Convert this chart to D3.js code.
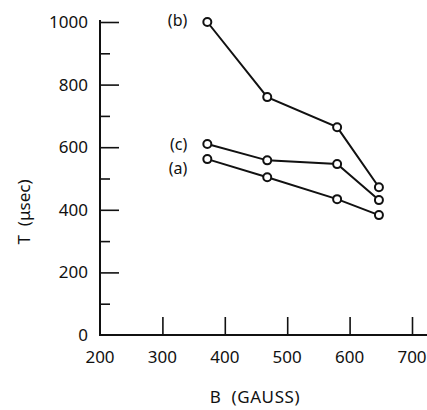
<!DOCTYPE html>
<html>
<head>
<meta charset="utf-8">
<script src="https://cdn.jsdelivr.net/npm/d3@7/dist/d3.min.js"></script>
<style>
  html, body { margin: 0; padding: 0; background: #fff; }
  svg text { font-family: "Noto Sans", "Open Sans", sans-serif; fill: #111; white-space: pre; }
</style>
</head>
<body>
<svg id="chart" width="427" height="410"></svg>
<script>
// Field B (gauss) at which each run was taken
const fieldB = [372, 468, 580, 647];
// Measured times T (µsec) for the three runs
const seriesA = [562, 504, 434, 383];
const seriesB = [1000, 760, 664, 472];
const seriesC = [610, 558, 546, 431];
const seriesNames = ["(a)", "(b)", "(c)"];

const xTicks = [200, 300, 400, 500, 600, 700];
const yMajorTicks = [0, 200, 400, 600, 800, 1000];
const yMinorTicks = [100, 300, 500, 700, 900];

const svg = d3.select("#chart");

const x = d3.scaleLinear().domain([200, 700]).range([100, 412]);
const y = d3.scaleLinear().domain([0, 1000]).range([335, 22]);

const ink = "#111";
const fontSize = 17;

// Axis lines
svg.append("line")
  .attr("x1", x(200)).attr("x2", 428)
  .attr("y1", y(0)).attr("y2", y(0))
  .attr("stroke", ink).attr("stroke-width", 2);
svg.append("line")
  .attr("x1", x(200)).attr("x2", x(200))
  .attr("y1", y(0) + 1).attr("y2", y(1000) - 2)
  .attr("stroke", ink).attr("stroke-width", 2);

// Y axis: inward ticks, long at labelled values, short between
const yAxis = d3.axisRight(y).tickValues(yMajorTicks).tickSize(19).tickFormat("");
const gy = svg.append("g").attr("transform", `translate(${x(200)},0)`).call(yAxis);
gy.select(".domain").remove();
gy.selectAll(".tick line").attr("stroke", ink).attr("stroke-width", 1.6);
gy.selectAll(".tick").filter(d => d === 0).remove();

const yMinor = d3.axisRight(y).tickValues(yMinorTicks).tickSize(10).tickFormat("");
const gym = svg.append("g").attr("transform", `translate(${x(200)},0)`).call(yMinor);
gym.select(".domain").remove();
gym.selectAll(".tick line").attr("stroke", ink).attr("stroke-width", 1.6);

svg.selectAll(".ylab")
  .data(yMajorTicks)
  .join("text")
  .attr("class", "ylab")
  .attr("x", x(200) - 12)
  .attr("y", d => y(d))
  .attr("dy", "0.35em")
  .attr("text-anchor", "end")
  .attr("font-size", fontSize)
  .text(d => d);

// X axis: inward ticks
const xAxis = d3.axisTop(x).tickValues(xTicks.filter(d => d > 200)).tickSize(18).tickFormat("");
const gx = svg.append("g").attr("transform", `translate(0,${y(0)})`).call(xAxis);
gx.select(".domain").remove();
gx.selectAll(".tick line").attr("stroke", ink).attr("stroke-width", 1.6);

svg.selectAll(".xlab")
  .data(xTicks)
  .join("text")
  .attr("class", "xlab")
  .attr("x", d => x(d))
  .attr("y", y(0) + 22)
  .attr("dy", "0.35em")
  .attr("text-anchor", "middle")
  .attr("font-size", fontSize)
  .text(d => d);

// Axis titles
svg.append("text")
  .attr("x", 255).attr("y", 397)
  .attr("dy", "0.35em")
  .attr("text-anchor", "middle")
  .attr("font-size", fontSize)
  .attr("letter-spacing", 0.6)
  .text("B  (GAUSS)");

svg.append("text")
  .attr("transform", `translate(24,212) rotate(-90)`)
  .attr("dy", "0.35em")
  .attr("text-anchor", "middle")
  .attr("font-size", fontSize)
  .text("T  (μsec)");

// Series lines and open-circle markers
const series = [seriesA, seriesB, seriesC];
const line = d3.line().x((d, i) => x(fieldB[i])).y(d => y(d));

series.forEach(vals => {
  svg.append("path")
    .datum(vals)
    .attr("d", line)
    .attr("fill", "none")
    .attr("stroke", ink)
    .attr("stroke-width", 2);
  svg.selectAll(null)
    .data(vals)
    .join("circle")
    .attr("cx", (d, i) => x(fieldB[i]))
    .attr("cy", d => y(d))
    .attr("r", 4)
    .attr("fill", "#fff")
    .attr("stroke", ink)
    .attr("stroke-width", 2);
});

// Series labels to the left of each run's first point;
// (a) and (c) are nudged apart so they do not collide
const labelNudge = [9, -2, 0];
series.forEach((vals, k) => {
  svg.append("text")
    .attr("x", x(fieldB[0]) - 20)
    .attr("y", y(vals[0]) + labelNudge[k])
    .attr("dy", "0.35em")
    .attr("text-anchor", "end")
    .attr("font-size", 16)
    .text(seriesNames[k]);
});
</script>
</body>
</html>
